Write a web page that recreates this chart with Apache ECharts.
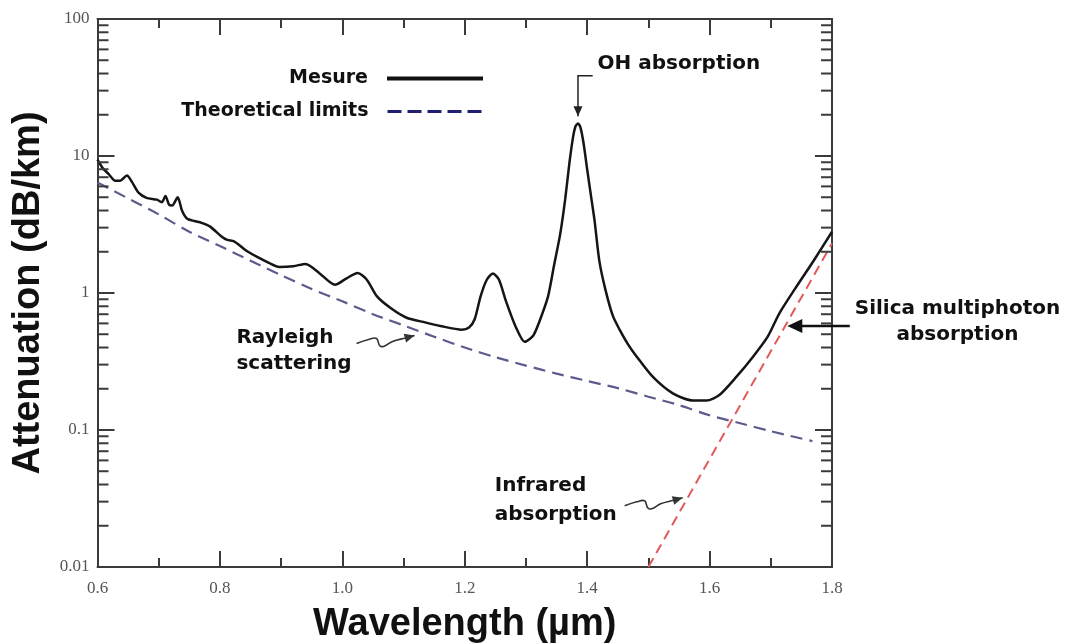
<!DOCTYPE html>
<html>
<head>
<meta charset="utf-8">
<script src="https://cdn.jsdelivr.net/npm/echarts@6/dist/echarts.min.js"></script>
<style>
  html, body { margin: 0; padding: 0; background: #fff; }
  #chart { width: 1074px; height: 643px; }
</style>
</head>
<body>
<div id="chart"></div>
<script>
// Measured attenuation of a silica fibre (dB/km) versus wavelength (µm)
const measuredWavelength = [
  0.600, 0.609, 0.618, 0.629, 0.637, 0.648, 0.656, 0.667, 0.680, 0.697,
  0.705, 0.711, 0.717, 0.722, 0.731, 0.738, 0.746, 0.758, 0.770, 0.784,
  0.802, 0.812, 0.823, 0.838, 0.846, 0.860, 0.880, 0.897, 0.920, 0.940,
  0.963, 0.988, 1.007, 1.025, 1.040, 1.057, 1.080, 1.105, 1.135, 1.160,
  1.195, 1.207, 1.216, 1.226, 1.236, 1.246, 1.256, 1.267, 1.283, 1.298,
  1.312, 1.322, 1.336, 1.346, 1.356, 1.364, 1.371, 1.377, 1.381, 1.385,
  1.389, 1.394, 1.400, 1.406, 1.412, 1.420, 1.430, 1.442, 1.453, 1.467,
  1.481, 1.507, 1.540, 1.573, 1.595, 1.616, 1.644, 1.671, 1.695, 1.714,
  1.740, 1.770, 1.800
];
const measuredAttenuation = [
  9.4, 8.1, 7.4, 6.6, 6.6, 7.2, 6.5, 5.4, 4.95, 4.8,
  4.6, 5.1, 4.4, 4.35, 5.0, 4.0, 3.5, 3.35, 3.25, 3.05,
  2.6, 2.44, 2.38, 2.12, 2.0, 1.84, 1.66, 1.55, 1.57, 1.63,
  1.39, 1.15, 1.28, 1.40, 1.25, 0.94, 0.77, 0.66, 0.61, 0.575,
  0.54, 0.56, 0.64, 0.95, 1.25, 1.39, 1.25, 0.88, 0.57, 0.44,
  0.49, 0.62, 0.94, 1.6, 2.7, 4.8, 8.9, 13.8, 16.5, 17.3,
  16.2, 12.5, 8.0, 5.2, 3.4, 1.7, 1.05, 0.68, 0.54, 0.42,
  0.343, 0.245, 0.185, 0.164, 0.164, 0.18, 0.245, 0.343, 0.48, 0.71,
  1.08, 1.72, 2.8
];

// Theoretical limit (Rayleigh scattering)
const rayleighWavelength = [
  0.60, 0.65, 0.70, 0.75, 0.80, 0.85, 0.90, 0.95, 1.00, 1.05,
  1.10, 1.15, 1.20, 1.25, 1.30, 1.35, 1.40, 1.45, 1.50, 1.55,
  1.60, 1.65, 1.70, 1.768
];
const rayleighAttenuation = [
  6.4, 4.9, 3.75, 2.8, 2.2, 1.72, 1.35, 1.07, 0.87, 0.70,
  0.58, 0.48, 0.40, 0.34, 0.295, 0.258, 0.228, 0.202, 0.175, 0.152,
  0.128, 0.112, 0.098, 0.083
];

// Infrared absorption edge
const infraredWavelength = [1.5, 1.8];
const infraredAttenuation = [0.01, 2.3];

// Axes
const xMin = 0.6, xMax = 1.8, xStep = 0.2;
const yMin = 0.01, yMax = 100;
const decadeStarts = [0.01, 0.1, 1, 10];
const minorMultipliers = [2, 3, 4, 5, 6, 7, 8, 9];

const seriesNames = ['Mesure', 'Theoretical limits'];
const axisTitles = { x: 'Wavelength (µm)', y: 'Attenuation (dB/km)' };

const zip = (xs, ys) => xs.map((x, i) => [x, ys[i]]);
const minorTickValues = [];
decadeStarts.forEach(d => minorMultipliers.forEach(m => minorTickValues.push(+(d * m).toPrecision(3))));

const frameColor = '#3a3a3a';
const tickFont = { fontFamily: 'Liberation Serif', fontSize: 17, color: '#555' };
const titleFont = { fontFamily: 'Arial, "Liberation Sans", sans-serif', fontWeight: 'bold', fontSize: 38, color: '#111' };
const annotFont = 'bold 20px "DejaVu Sans"';

const chart = echarts.init(document.getElementById('chart'), null, { renderer: 'canvas' });

const xAxisBase = {
  type: 'value', min: xMin, max: xMax, interval: xStep,
  axisLine: { show: true, onZero: false, lineStyle: { color: frameColor, width: 2 } },
  axisTick: { show: true, inside: true, length: 16, lineStyle: { color: frameColor, width: 2 } },
  minorTick: { show: true, splitNumber: 2, length: 9, lineStyle: { color: frameColor, width: 2 } },
  splitLine: { show: false }, minorSplitLine: { show: false }
};
const yAxisBase = {
  type: 'log', logBase: 10, min: yMin, max: yMax,
  axisLine: { show: true, onZero: false, lineStyle: { color: frameColor, width: 2 } },
  axisTick: { show: true, inside: true, length: 17, lineStyle: { color: frameColor, width: 2 } },
  splitLine: { show: false }
};

const legendBase = {
  orient: 'vertical', align: 'right', right: 589, padding: 0,
  itemWidth: 96, itemHeight: 22, selectedMode: false,
  itemStyle: { opacity: 0 },
  textStyle: { fontFamily: 'DejaVu Sans', fontWeight: 'bold', fontSize: 19, color: '#111', padding: [0, 14, 0, 0] }
};

chart.setOption({
  animation: false,
  backgroundColor: '#ffffff',
  grid: { left: 97.5, right: 242, top: 19, bottom: 76, containLabel: false, outerBoundsMode: 'none' },
  legend: [
    Object.assign({}, legendBase, {
      data: [seriesNames[0]], top: 69,
      lineStyle: { width: 4, color: '#111' }
    }),
    Object.assign({}, legendBase, {
      data: [seriesNames[1]], top: 102,
      lineStyle: { width: 3, color: '#202070', type: [14, 6] }
    })
  ],
  xAxis: [
    Object.assign({}, xAxisBase, {
      position: 'bottom',
      axisLabel: Object.assign({ margin: 13, formatter: v => v.toFixed(1) }, tickFont),
      name: axisTitles.x, nameLocation: 'middle', nameGap: 39,
      nameTextStyle: titleFont
    }),
    Object.assign({}, xAxisBase, { position: 'top', axisLabel: { show: false } })
  ],
  yAxis: [
    Object.assign({}, yAxisBase, {
      position: 'left',
      axisLabel: Object.assign({ margin: 8 }, tickFont),
      name: axisTitles.y, nameLocation: 'middle', nameGap: 50, nameRotate: 90,
      nameTextStyle: titleFont
    }),
    Object.assign({}, yAxisBase, { position: 'right', axisLabel: { show: false } })
  ],
  series: [
    {
      name: seriesNames[1], type: 'line', data: zip(rayleighWavelength, rayleighAttenuation),
      symbol: 'none', smooth: 0.3, z: 3,
      lineStyle: { color: '#5c5c8c', width: 2.2, type: [12, 7] }
    },
    {
      name: 'Infrared', type: 'line', data: zip(infraredWavelength, infraredAttenuation),
      symbol: 'none', z: 3,
      lineStyle: { color: '#e05a5a', width: 2, type: [10, 6] }
    },
    {
      name: seriesNames[0], type: 'line', data: zip(measuredWavelength, measuredAttenuation),
      symbol: 'none', smooth: 0.25, z: 4,
      lineStyle: { color: '#151515', width: 2.5 }
    },
    {
      // log-scale minor ticks (2..9 of each decade) on the left and right frame
      name: 'minorTicks', type: 'custom', silent: true, z: 5,
      data: minorTickValues.map(v => [xMin, v]),
      renderItem: (params, api) => {
        const v = api.value(1);
        const l = api.coord([xMin, v]);
        const r = api.coord([xMax, v]);
        const st = { stroke: frameColor, lineWidth: 2 };
        return {
          type: 'group', children: [
            { type: 'line', shape: { x1: l[0], y1: l[1], x2: l[0] + 11, y2: l[1] }, style: st },
            { type: 'line', shape: { x1: r[0] - 11, y1: r[1], x2: r[0], y2: r[1] }, style: st }
          ]
        };
      }
    }
  ]
});

// Annotations, anchored in data space
const P = (x, y) => chart.convertToPixel({ xAxisIndex: 0, yAxisIndex: 0 }, [x, y]);

function arrowHead(tip, prev, len, half, color) {
  const dx = tip[0] - prev[0], dy = tip[1] - prev[1];
  const n = Math.hypot(dx, dy) || 1;
  const ux = dx / n, uy = dy / n;
  const bx = tip[0] - ux * len, by = tip[1] - uy * len;
  return {
    type: 'polygon',
    shape: { points: [tip, [bx - uy * half, by + ux * half], [bx + uy * half, by - ux * half]] },
    style: { fill: color }
  };
}

function squiggle(tip, offsets, color) {
  const pts = offsets.map(o => [tip[0] + o[0], tip[1] + o[1]]);
  pts.push(tip);
  return [
    { type: 'polyline', shape: { points: pts, smooth: 0.4 }, style: { stroke: color, lineWidth: 1.6, fill: null } },
    arrowHead(tip, pts[pts.length - 2], 10, 4.5, color)
  ];
}

function label(text, at, align, lineHeight) {
  return {
    type: 'text',
    style: {
      text: text, x: at[0], y: at[1], font: annotFont, fill: '#111',
      align: align, verticalAlign: 'middle', lineHeight: lineHeight || 26
    }
  };
}

const squiggleShape = [[-58, 8], [-46, 4], [-38, 3], [-35, 10], [-31, 11], [-22, 6], [-9, 2.5]];

const ohCorner = P(1.385, 38.6);
const ohStart = P(1.409, 38.6);
const ohTip = P(1.385, 19.5);
const silicaTail = P(1.829, 0.574);
const silicaTip = P(1.727, 0.574);
const rayleighTip = P(1.118, 0.49);
const infraredTip = P(1.556, 0.032);

const graphics = [
  label('OH absorption', P(1.417, 47), 'left'),
  { type: 'polyline', shape: { points: [ohStart, ohCorner, ohTip] }, style: { stroke: '#222', lineWidth: 1.5, fill: null } },
  arrowHead(ohTip, ohCorner, 10, 4.5, '#222'),
  label('Silica multiphoton\nabsorption', P(2.005, 0.614), 'center'),
  { type: 'line', shape: { x1: silicaTail[0], y1: silicaTail[1], x2: silicaTip[0] + 8, y2: silicaTip[1] }, style: { stroke: '#111', lineWidth: 2.5 } },
  arrowHead(silicaTip, silicaTail, 15, 7, '#111'),
  label('Rayleigh\nscattering', P(0.827, 0.378), 'left'),
  label('Infrared\nabsorption', P(1.249, 0.0305), 'left', 29)
].concat(squiggle(rayleighTip, squiggleShape, '#333'))
 .concat(squiggle(infraredTip, squiggleShape, '#333'));

chart.setOption({ graphic: graphics.map(g => Object.assign({ z: 20 }, g)) });
</script>
</body>
</html>
